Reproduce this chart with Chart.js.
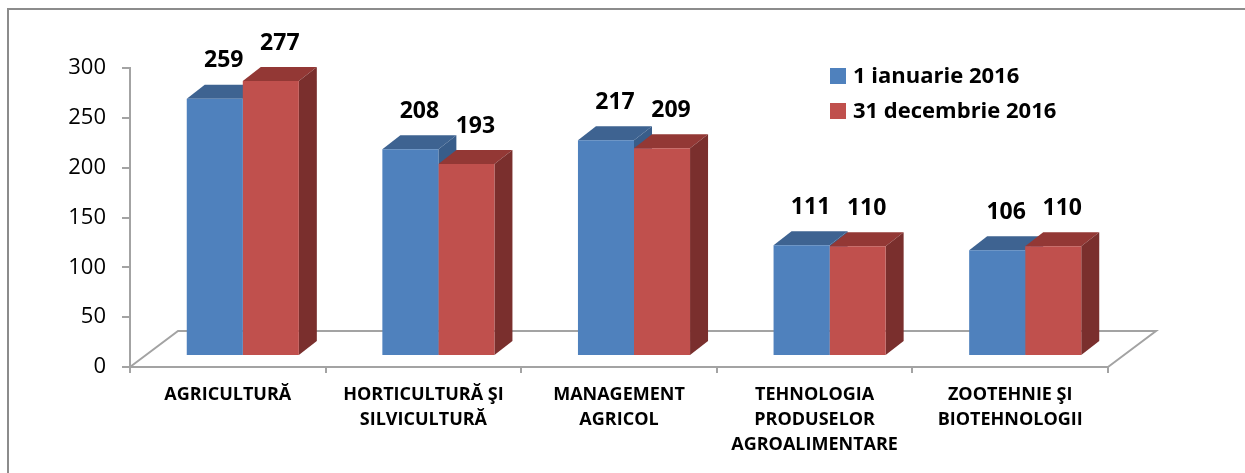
<!DOCTYPE html>
<html>
<head>
<meta charset="utf-8">
<script src="https://cdn.jsdelivr.net/npm/chart.js@4.4.1/dist/chart.umd.min.js"></script>
<style>
  body { margin: 0; background: #fff; }
  #wrap { width: 1245px; height: 473px; }
</style>
</head>
<body>
<div id="wrap"><canvas id="grafic"></canvas></div>
<script>
// date
const categorii = [
  "AGRICULTURĂ",
  ["HORTICULTURĂ ŞI", "SILVICULTURĂ"],
  ["MANAGEMENT", "AGRICOL"],
  ["TEHNOLOGIA", "PRODUSELOR", "AGROALIMENTARE"],
  ["ZOOTEHNIE ŞI", "BIOTEHNOLOGII"]
];
const ianuarie2016 = [259, 208, 217, 111, 106];
const decembrie2016 = [277, 193, 209, 110, 110];
const seriiNume = ["1 ianuarie 2016", "31 decembrie 2016"];
const valoriAxa = [0, 50, 100, 150, 200, 250, 300];

const FONT = "'Open Sans', sans-serif";
const GRI = "#a3a3a3";
const culori = [
  { fata: "#4f81bd", sus: "#3e6391", lateral: "#385d8a" },
  { fata: "#c0504d", sus: "#933835", lateral: "#7a2f2d" }
];

// decalaj 3D
const MUTARE = 15;          // fata barei fata de axa
const BX = 18, BY = -14;    // adancimea barei
const PX = 48, PY = -36;    // adancimea podelei

const efect3d = {
  id: "efect3d",
  beforeDraw(chart) {
    const ctx = chart.ctx;
    ctx.save();
    ctx.strokeStyle = "#8c8c8c";
    ctx.lineWidth = 2;
    ctx.strokeRect(8, 9, 1400, 700);
    ctx.restore();
  },
  beforeDatasetsDraw(chart) {
    const ctx = chart.ctx;
    const a = chart.chartArea;
    // podeaua
    ctx.save();
    ctx.strokeStyle = GRI;
    ctx.lineWidth = 2;
    ctx.beginPath();
    ctx.moveTo(a.left, a.bottom);
    ctx.lineTo(a.left + PX, a.bottom + PY);
    ctx.lineTo(a.right + PX, a.bottom + PY);
    ctx.lineTo(a.right, a.bottom);
    ctx.stroke();
    ctx.restore();

    // fetele de sus si laterale, inainte de fata barelor
    const n = chart.data.labels.length;
    for (let i = 0; i < n; i++) {
      chart.data.datasets.forEach((ds, d) => {
        const el = chart.getDatasetMeta(d).data[i];
        const st = el.x - el.width / 2 + MUTARE;
        const dr = st + el.width;
        const sus = el.y, baza = el.base;
        ctx.fillStyle = culori[d].sus;
        ctx.beginPath();
        ctx.moveTo(st, sus);
        ctx.lineTo(dr, sus);
        ctx.lineTo(dr + BX, sus + BY);
        ctx.lineTo(st + BX, sus + BY);
        ctx.closePath();
        ctx.fill();
        ctx.fillStyle = culori[d].lateral;
        ctx.beginPath();
        ctx.moveTo(dr, sus);
        ctx.lineTo(dr + BX, sus + BY);
        ctx.lineTo(dr + BX, baza + BY);
        ctx.lineTo(dr, baza);
        ctx.closePath();
        ctx.fill();
      });
    }
    ctx.save();
    ctx.translate(MUTARE, 0);
  },
  afterDatasetsDraw(chart) {
    const ctx = chart.ctx;
    ctx.restore();
    // etichete valori
    ctx.save();
    ctx.fillStyle = "#000";
    ctx.font = "bold 23px " + FONT;
    ctx.textAlign = "center";
    ctx.textBaseline = "middle";
    chart.data.datasets.forEach((ds, d) => {
      chart.getDatasetMeta(d).data.forEach((el, i) => {
        ctx.fillText(ds.data[i], el.x + MUTARE + BX / 2, el.y + BY - 24);
      });
    });
    // legenda
    ctx.textAlign = "left";
    ctx.font = "bold 22px " + FONT;
    chart.data.datasets.forEach((ds, d) => {
      const y = 76 + d * 35;
      ctx.fillStyle = ds.backgroundColor;
      ctx.fillRect(830, y - 8, 16, 16);
      ctx.fillStyle = "#000";
      ctx.fillText(ds.label, 853, y + 1);
    });
    ctx.restore();
  }
};

new Chart(document.getElementById("grafic"), {
  type: "bar",
  data: {
    labels: categorii,
    datasets: [
      { label: seriiNume[0], data: ianuarie2016, backgroundColor: culori[0].fata, yAxisID: "bare" },
      { label: seriiNume[1], data: decembrie2016, backgroundColor: culori[1].fata, yAxisID: "bare" }
    ]
  },
  options: {
    responsive: true,
    maintainAspectRatio: false,
    animation: false,
    events: [],
    layout: { padding: { left: 0, right: 137, top: 68, bottom: 0 } },
    datasets: { bar: { barPercentage: 1, categoryPercentage: 0.573 } },
    plugins: { legend: { display: false }, tooltip: { enabled: false } },
    scales: {
      x: {
        grid: { display: true, drawOnChartArea: false, tickLength: 6, color: GRI, lineWidth: 2 },
        border: { color: GRI, width: 2 },
        ticks: {
          color: "#000",
          padding: 9,
          maxRotation: 0,
          autoSkip: false,
          font: { family: FONT, size: 18, weight: "bold", lineHeight: 1.4 }
        },
        afterFit(s) { s.height = 106; }
      },
      y: {
        position: "left",
        min: 0,
        max: 300,
        afterBuildTicks(s) { s.ticks = valoriAxa.map(v => ({ value: v })); },
        grid: { display: true, drawOnChartArea: false, tickLength: 8, color: GRI, lineWidth: 2 },
        border: { color: GRI, width: 2 },
        ticks: { color: "#000", padding: 16, font: { family: FONT, size: 22 } },
        afterFit(s) { s.width = 130; }
      },
      bare: {
        display: false,
        min: -12.13,
        max: 290.14
      }
    }
  },
  plugins: [efect3d]
});
</script>
</body>
</html>
